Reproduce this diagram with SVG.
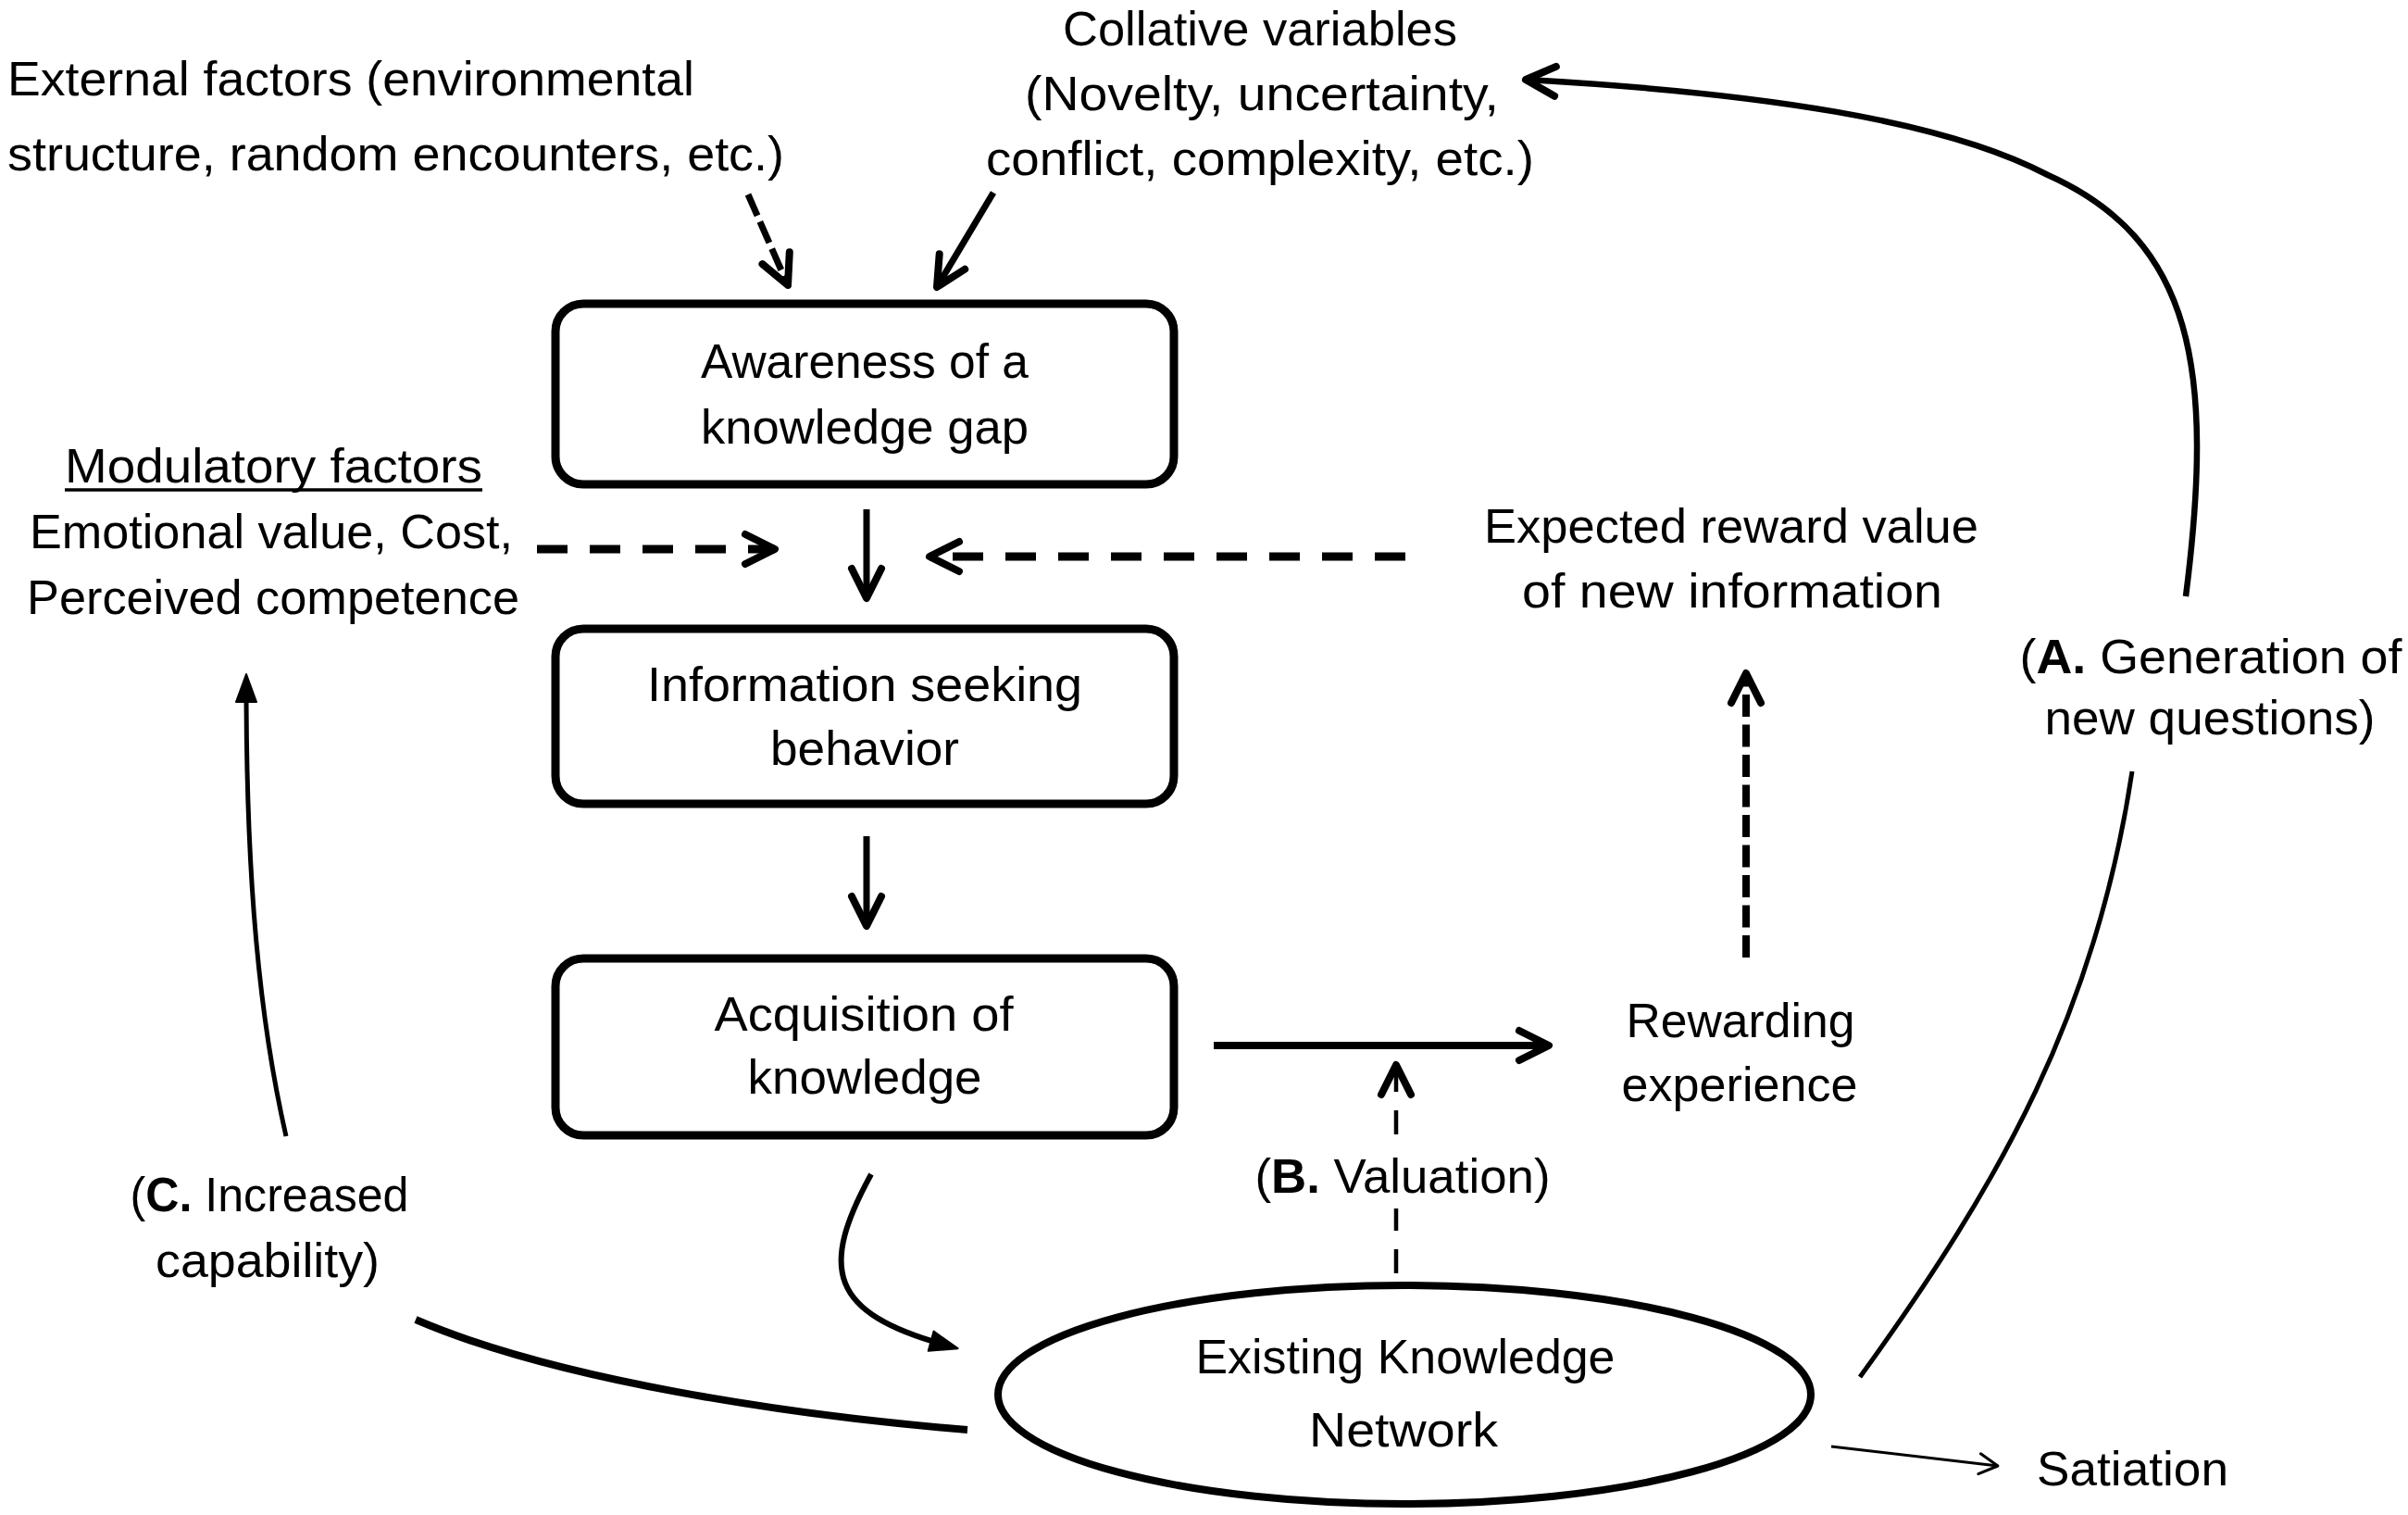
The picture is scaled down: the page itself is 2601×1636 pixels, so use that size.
<svg xmlns="http://www.w3.org/2000/svg" width="2601" height="1636" viewBox="0 0 2601 1636">
<style>
.t { font-family: "Liberation Sans", Arial, sans-serif; font-size: 52px; fill: #000; }
.m { text-anchor: middle; }
.b { font-weight: bold; }
.box { fill: #fff; stroke: #000; stroke-width: 9; }
.c { fill: none; stroke: #000; }
</style>
<defs>
<marker id="chev" viewBox="-44 -26 52 52" refX="0" refY="0" markerWidth="52" markerHeight="52" orient="auto" markerUnits="userSpaceOnUse" overflow="visible">
<path d="M-32,-16 L0,0 L-32,16" fill="none" stroke="#000" stroke-width="8" stroke-linecap="round" stroke-linejoin="round" stroke-dasharray="none"/>
</marker>
<marker id="chevT" viewBox="-30 -20 40 40" refX="0" refY="0" markerWidth="40" markerHeight="40" orient="auto" markerUnits="userSpaceOnUse" overflow="visible">
<path d="M-20,-11 L0,0 L-20,11" fill="none" stroke="#000" stroke-width="3" stroke-linecap="round" stroke-linejoin="round"/>
</marker>
<marker id="tri" viewBox="-40 -20 60 40" refX="-12" refY="0" markerWidth="60" markerHeight="40" orient="auto" markerUnits="userSpaceOnUse" overflow="visible">
<path d="M-30,-11 L0,0 L-30,11 Z" fill="#000" stroke="#000" stroke-width="2" stroke-linejoin="round"/>
</marker>
</defs>
<rect width="2601" height="1636" fill="#fff"/>

<g id="connectors">
<path class="c" d="M808,210 L851,308" stroke-width="7" stroke-dasharray="25 7" marker-end="url(#chev)"/>
<path class="c" d="M1073,208 L1012,310" stroke-width="7" marker-end="url(#chev)"/>
<path class="c" d="M936,550 L936,646" stroke-width="7" marker-end="url(#chev)"/>
<path class="c" d="M936,903 L936,1000" stroke-width="7" marker-end="url(#chev)"/>
<path class="c" d="M580,593 L837,593" stroke-width="9" stroke-dasharray="33 24" marker-end="url(#chev)"/>
<path class="c" d="M1518,601 L1004,601" stroke-width="9" stroke-dasharray="33 24" marker-end="url(#chev)"/>
<path class="c" d="M1311,1129 L1673,1129" stroke-width="8" marker-end="url(#chev)"/>
<path class="c" d="M1886,1034 L1886,727" stroke-width="8" stroke-dasharray="24 8.5" marker-end="url(#chev)"/>
<path class="c" d="M1508,1375 L1508,1305" stroke-width="4.5" stroke-dasharray="26 20"/>
<path class="c" d="M1508,1225 L1508,1150" stroke-width="4.5" stroke-dasharray="26 20" marker-end="url(#chev)"/>
<path class="c" d="M1978,1562 L2158,1583" stroke-width="3" marker-end="url(#chevT)"/>
<path class="c" d="M2009,1487 C2162,1276 2264,1093 2303,833" stroke-width="5"/>
<path class="c" d="M2361,644 C2392,400 2370,260 2212,189 C2100,130 1900,100 1648,86" stroke-width="6.5" marker-end="url(#chev)"/>
<path class="c" d="M1045,1544 C850,1528 600,1490 449,1425" stroke-width="8"/>
<path class="c" d="M309,1227 C280,1100 266,950 266,740" stroke-width="5" marker-end="url(#tri)"/>
<path class="c" d="M941,1268 C885,1370 895,1418 1023,1453" stroke-width="6" marker-end="url(#tri)"/>
</g>

<g id="collative">
<text class="t m" x="1361" y="49" textLength="426" lengthAdjust="spacingAndGlyphs">Collative variables</text>
<text class="t m" x="1363" y="119" textLength="512" lengthAdjust="spacingAndGlyphs">(Novelty, uncertainty,</text>
<text class="t m" x="1361" y="189" textLength="592" lengthAdjust="spacingAndGlyphs">conflict, complexity, etc.)</text>
</g>

<g id="external">
<text class="t" x="8" y="103" textLength="742" lengthAdjust="spacingAndGlyphs">External factors (environmental</text>
<text class="t" x="8" y="184" textLength="839" lengthAdjust="spacingAndGlyphs">structure, random encounters, etc.)</text>
</g>

<g id="awareness">
<rect class="box" x="600" y="328" width="668" height="195" rx="30"/>
<text class="t m" x="934" y="408" textLength="354" lengthAdjust="spacingAndGlyphs">Awareness of a</text>
<text class="t m" x="934" y="479" textLength="354" lengthAdjust="spacingAndGlyphs">knowledge gap</text>
</g>

<g id="modulatory">
<text class="t" x="70" y="521" textLength="451" lengthAdjust="spacingAndGlyphs">Modulatory factors</text>
<line x1="70" y1="529" x2="521" y2="529" stroke="#000" stroke-width="3.5"/>
<text class="t" x="32" y="592" textLength="522" lengthAdjust="spacingAndGlyphs">Emotional value, Cost,</text>
<text class="t" x="29" y="663" textLength="532" lengthAdjust="spacingAndGlyphs">Perceived competence</text>
</g>

<g id="seeking">
<rect class="box" x="600" y="679" width="668" height="189" rx="30"/>
<text class="t m" x="934" y="757" textLength="470" lengthAdjust="spacingAndGlyphs">Information seeking</text>
<text class="t m" x="934" y="826" textLength="204" lengthAdjust="spacingAndGlyphs">behavior</text>
</g>

<g id="acquisition">
<rect class="box" x="600" y="1035" width="668" height="191" rx="30"/>
<text class="t m" x="933" y="1113" textLength="323" lengthAdjust="spacingAndGlyphs">Acquisition of</text>
<text class="t m" x="934" y="1181" textLength="253" lengthAdjust="spacingAndGlyphs">knowledge</text>
</g>

<g id="expected">
<text class="t m" x="1870" y="586" textLength="534" lengthAdjust="spacingAndGlyphs">Expected reward value</text>
<text class="t m" x="1871" y="656" textLength="454" lengthAdjust="spacingAndGlyphs">of new information</text>
</g>

<g id="labelA">
<text class="t m" x="2388" y="727" textLength="413" lengthAdjust="spacingAndGlyphs">(<tspan class="b">A.</tspan> Generation of</text>
<text class="t m" x="2387" y="793" textLength="357" lengthAdjust="spacingAndGlyphs">new questions)</text>
</g>

<g id="rewarding">
<text class="t m" x="1880" y="1120" textLength="247" lengthAdjust="spacingAndGlyphs">Rewarding</text>
<text class="t m" x="1879" y="1189" textLength="255" lengthAdjust="spacingAndGlyphs">experience</text>
</g>

<g id="labelB">
<text class="t m" x="1515" y="1288" textLength="319" lengthAdjust="spacingAndGlyphs">(<tspan class="b">B.</tspan> Valuation)</text>
</g>

<g id="labelC">
<text class="t m" x="291" y="1308" textLength="301" lengthAdjust="spacingAndGlyphs">(<tspan class="b">C.</tspan> Increased</text>
<text class="t m" x="289" y="1379" textLength="242" lengthAdjust="spacingAndGlyphs">capability)</text>
</g>

<g id="network">
<ellipse cx="1517" cy="1506" rx="439" ry="118" fill="#fff" stroke="#000" stroke-width="8"/>
<text class="t m" x="1518" y="1483" textLength="453" lengthAdjust="spacingAndGlyphs">Existing Knowledge</text>
<text class="t m" x="1516" y="1562" textLength="204" lengthAdjust="spacingAndGlyphs">Network</text>
</g>

<g id="satiation">
<text class="t" x="2200" y="1604" textLength="207" lengthAdjust="spacingAndGlyphs">Satiation</text>
</g>
</svg>
